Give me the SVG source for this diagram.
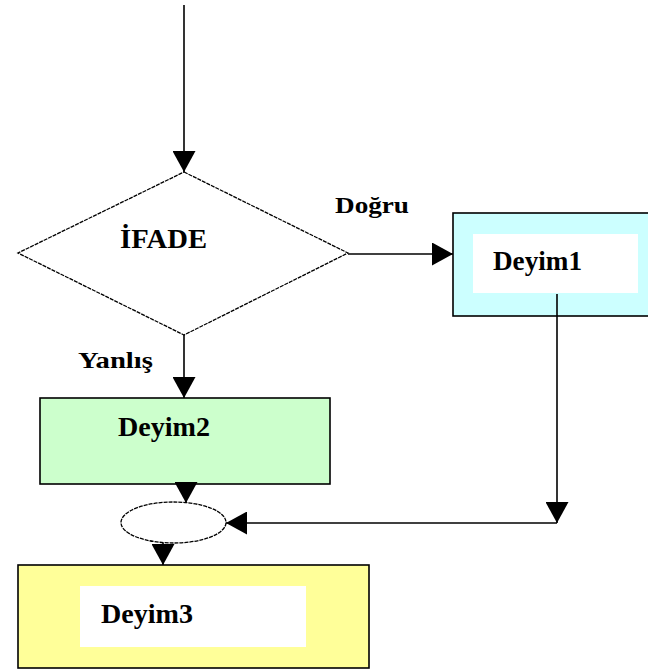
<svg xmlns="http://www.w3.org/2000/svg" width="648" height="669" viewBox="0 0 648 669">
  <style>
    text { font-family: "Liberation Serif", "DejaVu Serif", "Times New Roman", serif; font-weight: 700; fill: #000; }
    .dash { fill: #fff; stroke: #000; stroke-width: 1.3; stroke-dasharray: 4 1; }
    .box { stroke: #000; stroke-width: 1.6; }
    .inner { fill: #fff; stroke: none; }
    .conn { fill: none; stroke: #000; stroke-width: 1.6; marker-end: url(#tri); }
  </style>
  <defs>
    <marker id="tri" markerUnits="userSpaceOnUse" markerWidth="22" markerHeight="23" refX="21" refY="11.5" orient="auto">
      <path d="M0,0 L21,11.5 L0,23 z" fill="#000"/>
    </marker>
  </defs>
  <rect width="648" height="669" fill="#fff"/>

  <!-- decision -->
  <g id="ifade">
    <polygon class="dash" points="184,172 348,253 184,335 18,253"/>
    <text x="120" y="248" font-size="27" textLength="87" lengthAdjust="spacingAndGlyphs">İFADE</text>
  </g>

  <!-- true branch statement -->
  <g id="deyim1">
    <rect class="box" x="453" y="213" width="210" height="103" fill="#ccffff"/>
    <rect class="inner" x="473" y="234" width="165" height="59"/>
    <text x="493" y="270" font-size="27" textLength="89" lengthAdjust="spacingAndGlyphs">Deyim1</text>
  </g>

  <!-- false branch statement -->
  <g id="deyim2">
    <rect class="box" x="40" y="398" width="290" height="86" fill="#ccffcc"/>
    <text x="118" y="436" font-size="27" textLength="92" lengthAdjust="spacingAndGlyphs">Deyim2</text>
  </g>

  <!-- merge point -->
  <g id="merge">
    <ellipse class="dash" cx="173.5" cy="522.5" rx="52.5" ry="20.5"/>
  </g>

  <!-- following statement -->
  <g id="deyim3">
    <rect class="box" x="18" y="565" width="351" height="103" fill="#ffff99"/>
    <rect class="inner" x="80" y="586" width="226" height="61"/>
    <text x="101" y="623" font-size="27" textLength="92" lengthAdjust="spacingAndGlyphs">Deyim3</text>
  </g>

  <!-- branch labels -->
  <g id="labels">
    <text x="335" y="213" font-size="23" textLength="74" lengthAdjust="spacingAndGlyphs">Doğru</text>
    <text x="78" y="368" font-size="23" textLength="75" lengthAdjust="spacingAndGlyphs">Yanlış</text>
  </g>

  <!-- connectors -->
  <g id="connectors">
    <path class="conn" d="M184,5 L184,172"/>
    <path class="conn" d="M348,254 L453,254"/>
    <path class="conn" d="M184,335 L184,398"/>
    <path class="conn" d="M186,484 L186,503"/>
    <path class="conn" d="M557,294 L557,523"/>
    <path class="conn" d="M557,523 L226,523"/>
    <path class="conn" d="M163,543 L163,565"/>
  </g>
</svg>
